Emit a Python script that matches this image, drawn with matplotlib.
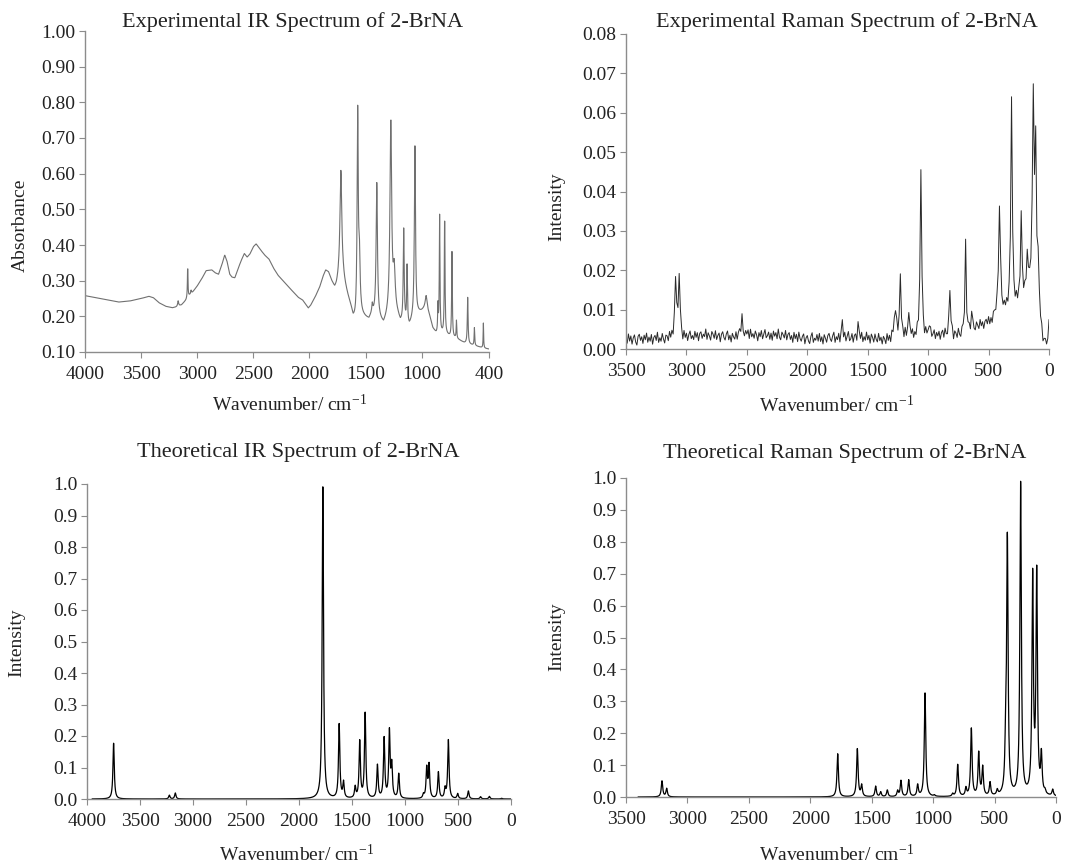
import numpy as np
import matplotlib
matplotlib.use("Agg")
import matplotlib.pyplot as plt
from matplotlib.ticker import FormatStrFormatter

plt.rcParams['font.family'] = ['Liberation Serif', 'DejaVu Serif']
plt.rcParams['mathtext.default'] = 'regular'

# ---- Experimental IR (absorbance) ----
# broad background: (wavenumber, absorbance)
ir_exp_bg_wn = [4000, 3900, 3800, 3700, 3600, 3500, 3430, 3390, 3340, 3280, 3220, 3190,
                3140, 3100, 3070, 3040, 3000, 2960, 2920, 2870, 2840, 2810, 2780, 2755,
                2735, 2710, 2690, 2665, 2640, 2610, 2580, 2555, 2530, 2500, 2475, 2440,
                2400, 2360, 2320, 2280, 2200, 2150, 2100, 2060, 2030, 2010, 1990, 1950,
                1910, 1880, 1855, 1830, 1800, 1775, 1760, 1740, 1700, 1660, 1630, 1610,
                1590, 1540, 1500, 1470, 1440, 1420, 1380, 1340, 1300, 1240, 1210, 1190,
                1150, 1110, 1080, 1030, 1000, 960, 930, 900, 870, 820, 780, 740, 700,
                660, 620, 560, 500, 440, 400]
ir_exp_bg_val = [0.258, 0.252, 0.246, 0.240, 0.243, 0.250, 0.256, 0.252, 0.238, 0.228, 0.224, 0.226,
                 0.232, 0.245, 0.258, 0.268, 0.285, 0.305, 0.328, 0.330, 0.322, 0.318, 0.345, 0.372,
                 0.355, 0.318, 0.310, 0.308, 0.330, 0.355, 0.376, 0.366, 0.375, 0.395, 0.403, 0.388,
                 0.372, 0.360, 0.335, 0.315, 0.287, 0.270, 0.253, 0.245, 0.232, 0.223, 0.230, 0.253,
                 0.280, 0.310, 0.328, 0.322, 0.295, 0.276, 0.280, 0.295, 0.300, 0.255, 0.222, 0.190,
                 0.182, 0.200, 0.193, 0.188, 0.205, 0.200, 0.190, 0.172, 0.195, 0.215, 0.195, 0.178,
                 0.178, 0.168, 0.188, 0.205, 0.212, 0.225, 0.200, 0.165, 0.150, 0.150, 0.148, 0.140, 0.138,
                 0.132, 0.125, 0.120, 0.115, 0.110, 0.108]
ir_exp_start = 0.79
# sharp bands: position, height above background, width
ir_exp_pos = [3170, 3085, 3055, 1720, 1570, 1555, 1440, 1400, 1275, 1245, 1160, 1130,
              1060, 960, 855, 840, 795, 730, 690, 590, 530, 450]
ir_exp_hgt = [0.015, 0.09, 0.01, 0.31, 0.57, 0.15, 0.02, 0.375, 0.54, 0.10, 0.26, 0.16,
              0.48, 0.03, 0.08, 0.33, 0.34, 0.24, 0.05, 0.13, 0.05, 0.07]
ir_exp_fw = [10, 6, 8, 20, 12, 15, 10, 14, 18, 20, 10, 8,
             12, 20, 6, 7, 7, 7, 6, 8, 6, 5]

# ---- Experimental Raman ----
ram_exp_bg_wn = [3500, 3100, 3000, 2850, 2600, 2550, 2450, 2200, 2000, 1800, 1500, 1350,
                 1300, 1100, 900, 800, 700, 600, 500, 450, 400, 350, 300, 250, 200, 150,
                 100, 70, 50, 30, 10, 0]
ram_exp_bg_val = [0.0025, 0.0027, 0.0030, 0.0035, 0.0030, 0.0045, 0.0035, 0.0035, 0.0025, 0.0028,
                  0.0028, 0.0022, 0.0030, 0.0030, 0.0035, 0.0030, 0.0040, 0.0055, 0.0065, 0.0080,
                  0.0090, 0.0095, 0.0105, 0.0110, 0.0130, 0.0160, 0.0120, 0.0060, 0.0020, 0.0010,
                  0.0015, 0.0020]
# detector noise read every 10 cm-1 from 3500 down to 0 (units of 1e-4)
ram_exp_noise = [3, -8, 10, -4, 6, -10, 2, 8, -6, -12, 5, 9, -3, 4, -9, 7, -2, 11, -7, 3,
                 -5, 8, -11, 2, 6, -4, 12, -8, 1, -6, 9, -2, -10, 5, 3, -7, 10, -3, 7, -9,
                 4, -6, 11, -1, -8, 6, 2, -12, 8, -4, 5, -9, 3, 10, -5, 1, -7, 9, -3, 6,
                 -10, 4, 7, -6, 2, -3, 12, -8, 5, -1, -9, 8, 3, -5, 10, -7, 1, 6, -11, 4,
                 9, -2, -7, 5, 11, -6, 3, -10, 7, 0, -4, 8, -9, 2, 6, -5, 12, -3, -8, 4,
                 -2, 7, -9, 10, -4, 3, -6, 8, 1, -11, 5, -3, 9, -7, 2, 11, -5, -1, 6, -8,
                 4, -10, 8, -2, 5, -7, 12, -4, -9, 6, 1, -5, 10, -8, 3, 7, -6, 2, -11, 9,
                 -3, 6, -8, 11, -1, -6, 4, 9, -10, 2, 7, -4, -9, 5, 12, -7, 1, -3, 8, -5,
                 10, -6, 3, -11, 7, 0, -8, 5, 9, -2, -7, 4, 11, -9, 2, -4, 8, -10, 6, 1,
                 -5, 9, -7, 3, 12, -6, -2, 8, -9, 4, 6, -11, 1, 7, -3, 10, -8, 2, -5, 11,
                 -4, 5, -10, 8, 2, -7, 9, -1, -6, 11, -3, 4, -9, 6, 1, -8, 10, -5, 3, -12,
                 7, -2, 9, -6, 4, -10, 1, 8, -3, 6, -8, 12, -5, 2, -9, 5, -1, 10, -7, 3,
                 -6, 11, -4, 2, -9, 7, 5, -11, 8, -2, 3, -7, 10, -5, 1, 9, -8, 4, -3, 6,
                 -10, 3, 8, -6, 11, -2, -8, 5, 1, -4, 9, -11, 6, 2, -7, 10, -3, -9, 7, 4,
                 -5, 12, -8, 3, 6, -10, 2, 9, -4, -7, 8, 1, -6, 11, -2, 5, -9, 4, 7, -3,
                 10, -7, 2, -11, 6, 3, -5, 8, -9, 1, 12, -4, -6, 7, -2, 9, -8, 5, -1, -10,
                 6, 3, -7, 11, -4, 8, -9, 2, 5, -6, 10, -3, -8, 4, 1, -11, 9, -5, 7, -2,
                 4, -8, 10, -3, 6, -9, 2, 7, -5, 3, 0]
ram_exp_pos = [3090, 3060, 2540, 1710, 1580, 1270, 1230, 1160, 1060, 990, 820, 690, 640,
               410, 310, 230, 180, 130, 110, 90, 0]
ram_exp_hgt = [0.0155, 0.0165, 0.003, 0.0045, 0.004, 0.007, 0.0145, 0.007, 0.0435, 0.003,
               0.0115, 0.022, 0.004, 0.027, 0.0545, 0.022, 0.010, 0.050, 0.036, 0.012, 0.005]
ram_exp_fw = [15, 15, 10, 10, 10, 20, 14, 12, 14, 10, 16, 12, 12,
              18, 14, 14, 12, 16, 12, 12, 5]

# ---- Theoretical IR ----
ir_th_pos = [3749, 3223, 3167, 1775, 1621, 1580, 1470, 1427, 1376, 1260, 1197, 1147, 1125,
             1059, 826, 795, 773, 685, 622, 591, 503, 402, 287, 204, 88]
ir_th_hgt = [0.177, 0.012, 0.019, 0.99, 0.235, 0.05, 0.035, 0.18, 0.27, 0.105, 0.19, 0.21,
             0.10, 0.078, 0.012, 0.095, 0.105, 0.084, 0.03, 0.186, 0.016, 0.025, 0.007, 0.008, 0.002]

# ---- Theoretical Raman ----
ram_th_pos = [3207, 3169, 1777, 1617, 1582, 1468, 1427, 1373, 1289, 1262, 1199, 1126, 1066,
              990, 841, 800, 733, 689, 629, 597, 537, 478, 410, 396, 288, 190, 157, 119, 90, 27]
ram_th_hgt = [0.050, 0.026, 0.135, 0.150, 0.035, 0.033, 0.015, 0.021, 0.018, 0.050, 0.052,
              0.036, 0.325, 0.004, 0.008, 0.100, 0.025, 0.212, 0.135, 0.090, 0.042, 0.016,
              0.12, 0.80, 0.98, 0.68, 0.69, 0.12, 0.010, 0.020]


def lorentz(x, pos, hgt, fw):
    y = np.zeros_like(x, dtype=float)
    for c, h, w in zip(pos, hgt, fw):
        y += h / (1 + ((x - c) / (w / 2.0)) ** 2)
    return y


# build curves
x_ir = np.arange(4000, 399, -2.0)
y_ir = np.interp(x_ir, ir_exp_bg_wn[::-1], ir_exp_bg_val[::-1]) + lorentz(x_ir, ir_exp_pos, ir_exp_hgt, ir_exp_fw)
x_ir = np.concatenate([[4000], x_ir])
y_ir = np.concatenate([[ir_exp_start], y_ir])

x_ram = np.arange(3500, -1, -10.0)
y_ram = (np.interp(x_ram, ram_exp_bg_wn[::-1], ram_exp_bg_val[::-1])
         + np.array(ram_exp_noise) * 1.3e-4
         + lorentz(x_ram, ram_exp_pos, ram_exp_hgt, ram_exp_fw))
y_ram = np.clip(y_ram, 0.0003, None)

x_th = np.arange(3950, 0, -1.0)
y_ir_th = lorentz(x_th, ir_th_pos, ir_th_hgt, [15] * len(ir_th_pos))
x_th2 = np.arange(3400, 0, -1.0)
y_ram_th = lorentz(x_th2, ram_th_pos, ram_th_hgt, [14] * len(ram_th_pos))

W, H = 1080, 866
fig = plt.figure(figsize=(W / 100, H / 100), dpi=100)


def px_axes(l, t, r, b):
    return fig.add_axes([l / W, 1 - b / H, (r - l) / W, (b - t) / H])


def style(ax, xlim, ylim, xticks, yticks, fmt, title, ylabel, tpos, ypos, xpos):
    ax.set_xlim(*xlim)
    ax.set_ylim(*ylim)
    ax.set_xticks(xticks)
    ax.set_yticks(yticks)
    ax.yaxis.set_major_formatter(FormatStrFormatter(fmt))
    for s in ['top', 'right']:
        ax.spines[s].set_visible(False)
    for s in ['left', 'bottom']:
        ax.spines[s].set_color('#8c8c8c')
        ax.spines[s].set_linewidth(1.0)
    ax.tick_params(axis='both', direction='out', length=4, width=0.8, color='#8c8c8c',
                   labelsize=14, labelcolor='#222222')
    ax.tick_params(axis='x', pad=6)
    ax.tick_params(axis='y', pad=3)
    fig.text(tpos[0] / W, 1 - tpos[1] / H, title, ha='center', va='center', fontsize=16, color='#222222')
    fig.text(ypos[0] / W, 1 - ypos[1] / H, ylabel, ha='center', va='center', rotation=90,
             fontsize=14, color='#222222')
    fig.text(xpos[0] / W, 1 - xpos[1] / H, r'Wavenumber/ cm$^{-1}$', ha='center', va='center',
             fontsize=14, color='#222222')


ax1 = px_axes(85, 31, 489, 352)
ax1.plot(x_ir, y_ir, color='#707070', lw=0.8)
style(ax1, (4000, 400), (0.10, 1.0), [4000, 3500, 3000, 2500, 2000, 1500, 1000, 400],
      np.arange(0.10, 1.001, 0.10), '%.2f', 'Experimental IR Spectrum of 2-BrNA', 'Absorbance',
      (293, 22), (20, 225), (290, 404))

ax2 = px_axes(626, 34, 1049, 349)
ax2.plot(x_ram, y_ram, color='#2a2a2a', lw=0.7)
style(ax2, (3500, 0), (0, 0.08), [3500, 3000, 2500, 2000, 1500, 1000, 500, 0],
      np.arange(0, 0.0801, 0.01), '%.2f', 'Experimental Raman Spectrum of 2-BrNA', 'Intensity',
      (847, 22), (557, 207), (837, 406))

ax3 = px_axes(87, 484, 511, 799)
ax3.plot(x_th, y_ir_th, color='black', lw=0.9)
style(ax3, (4000, 0), (0, 1.0), [4000, 3500, 3000, 2500, 2000, 1500, 1000, 500, 0],
      np.arange(0, 1.001, 0.1), '%.1f', 'Theoretical IR Spectrum of 2-BrNA', 'Intensity',
      (298, 452), (17, 643), (297, 855))

ax4 = px_axes(626, 478, 1056, 797)
ax4.plot(x_th2, y_ram_th, color='black', lw=0.9)
style(ax4, (3500, 0), (0, 1.0), [3500, 3000, 2500, 2000, 1500, 1000, 500, 0],
      np.arange(0, 1.001, 0.1), '%.1f', 'Theoretical Raman Spectrum of 2-BrNA', 'Intensity',
      (845, 453), (557, 637), (837, 855))

fig.savefig('out.png', dpi=100)
